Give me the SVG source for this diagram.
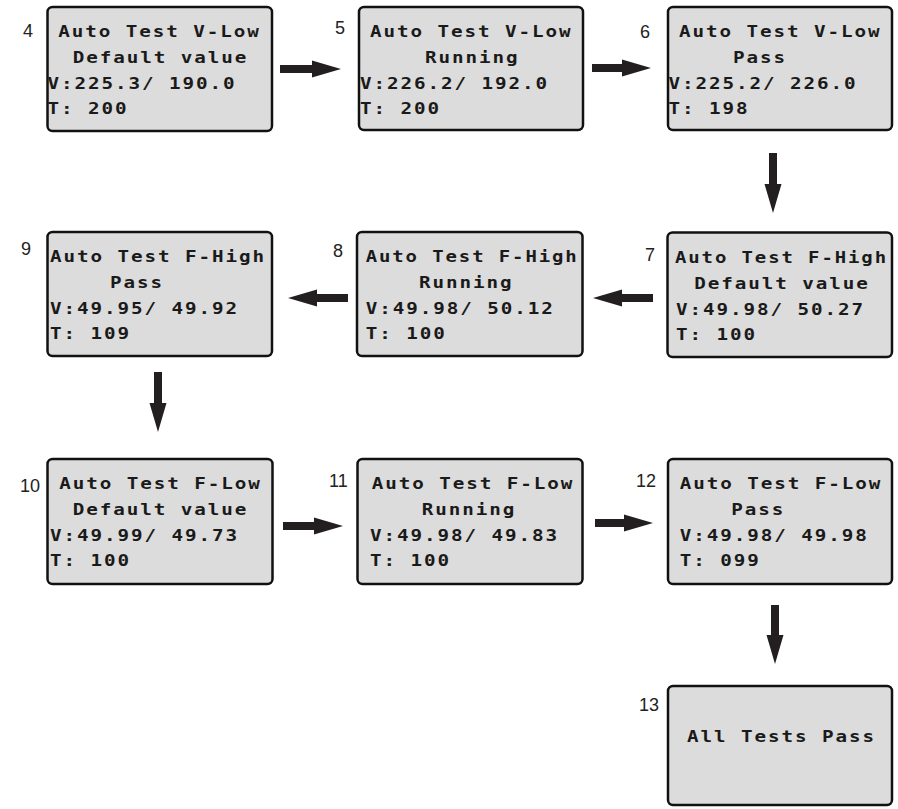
<svg xmlns="http://www.w3.org/2000/svg" width="898" height="809" viewBox="0 0 898 809">
<style>
.box{fill:#dcdcdc;stroke:#111;stroke-width:2.5}
.lcd{font-family:"DejaVu Sans Mono","Liberation Mono",monospace;font-weight:bold;font-size:15px;letter-spacing:1.5px;fill:#1a1a1a}
.lbl{font-family:"Liberation Sans",Arial,sans-serif;font-size:18px;fill:#222}
.arr{fill:#231f20}
</style>
<rect width="898" height="809" fill="#fff"/>
<g id="connectors">
<path class="arr" d="M280,65 H312 V60.5 L341,69 L312,77.5 V73 H280 Z"/>
<path class="arr" d="M592,64 H622 V59.5 L651,68 L622,76.5 V72 H592 Z"/>
<path class="arr" d="M769,153 V184 H764.5 L773,213 L781.5,184 H777 V153 Z"/>
<path class="arr" d="M653,294 H622 V289.5 L593,298 L622,306.5 V302 H653 Z"/>
<path class="arr" d="M348,294 H317 V289.5 L288,298 L317,306.5 V302 H348 Z"/>
<path class="arr" d="M154,372 V403 H149.5 L158,432 L166.5,403 H162 V372 Z"/>
<path class="arr" d="M283,522 H314 V517.5 L343,526 L314,534.5 V530 H283 Z"/>
<path class="arr" d="M595,519 H624 V514.5 L653,523 L624,531.5 V527 H595 Z"/>
<path class="arr" d="M771,605 V635 H766.5 L775,664 L783.5,635 H779 V605 Z"/>
</g>
<g id="node4">
<rect class="box" x="47.5" y="7" width="224.5" height="124" rx="5"/>
<text class="lbl" x="23" y="37">4</text>
<text class="lcd" x="58.3" y="37" textLength="202.5" lengthAdjust="spacingAndGlyphs">Auto Test V-Low</text>
<text class="lcd" x="72.7" y="63" textLength="175.5" lengthAdjust="spacingAndGlyphs">Default value</text>
<text class="lcd" x="47.5" y="89" textLength="189" lengthAdjust="spacingAndGlyphs">V:225.3/ 190.0</text>
<text class="lcd" x="47.5" y="114" textLength="81" lengthAdjust="spacingAndGlyphs">T: 200</text>
</g>
<g id="node5">
<rect class="box" x="359" y="7" width="224" height="123" rx="5"/>
<text class="lbl" x="335" y="34">5</text>
<text class="lcd" x="370" y="37" textLength="202.5" lengthAdjust="spacingAndGlyphs">Auto Test V-Low</text>
<text class="lcd" x="425" y="63" textLength="94.5" lengthAdjust="spacingAndGlyphs">Running</text>
<text class="lcd" x="360" y="89" textLength="189" lengthAdjust="spacingAndGlyphs">V:226.2/ 192.0</text>
<text class="lcd" x="360" y="114" textLength="81" lengthAdjust="spacingAndGlyphs">T: 200</text>
</g>
<g id="node6">
<rect class="box" x="668" y="7" width="224" height="123" rx="5"/>
<text class="lbl" x="640" y="38">6</text>
<text class="lcd" x="679" y="37" textLength="202.5" lengthAdjust="spacingAndGlyphs">Auto Test V-Low</text>
<text class="lcd" x="733" y="63" textLength="54" lengthAdjust="spacingAndGlyphs">Pass</text>
<text class="lcd" x="668.5" y="89" textLength="189" lengthAdjust="spacingAndGlyphs">V:225.2/ 226.0</text>
<text class="lcd" x="668.5" y="114" textLength="81" lengthAdjust="spacingAndGlyphs">T: 198</text>
</g>
<g id="node7">
<rect class="box" x="667.5" y="232.5" width="224.5" height="124.5" rx="5"/>
<text class="lbl" x="645" y="261">7</text>
<text class="lcd" x="675" y="263" textLength="213" lengthAdjust="spacingAndGlyphs">Auto Test F-High</text>
<text class="lcd" x="694.3" y="289" textLength="175.5" lengthAdjust="spacingAndGlyphs">Default value</text>
<text class="lcd" x="676" y="315" textLength="189" lengthAdjust="spacingAndGlyphs">V:49.98/ 50.27</text>
<text class="lcd" x="676" y="340" textLength="81" lengthAdjust="spacingAndGlyphs">T: 100</text>
</g>
<g id="node8">
<rect class="box" x="357" y="232" width="225.5" height="124" rx="5"/>
<text class="lbl" x="333" y="257">8</text>
<text class="lcd" x="365.7" y="262" textLength="213" lengthAdjust="spacingAndGlyphs">Auto Test F-High</text>
<text class="lcd" x="419" y="288" textLength="94.5" lengthAdjust="spacingAndGlyphs">Running</text>
<text class="lcd" x="365.7" y="314" textLength="189" lengthAdjust="spacingAndGlyphs">V:49.98/ 50.12</text>
<text class="lcd" x="365.7" y="339" textLength="81" lengthAdjust="spacingAndGlyphs">T: 100</text>
</g>
<g id="node9">
<rect class="box" x="47.5" y="232" width="224.5" height="124" rx="5"/>
<text class="lbl" x="21" y="255">9</text>
<text class="lcd" x="50" y="262" textLength="216" lengthAdjust="spacingAndGlyphs">Auto Test F-High</text>
<text class="lcd" x="110" y="288" textLength="54" lengthAdjust="spacingAndGlyphs">Pass</text>
<text class="lcd" x="50" y="314" textLength="189" lengthAdjust="spacingAndGlyphs">V:49.95/ 49.92</text>
<text class="lcd" x="50" y="339" textLength="81" lengthAdjust="spacingAndGlyphs">T: 109</text>
</g>
<g id="node10">
<rect class="box" x="47.5" y="459" width="225" height="125" rx="5"/>
<text class="lbl" x="20" y="492">10</text>
<text class="lcd" x="59.3" y="489" textLength="202.5" lengthAdjust="spacingAndGlyphs">Auto Test F-Low</text>
<text class="lcd" x="72.7" y="515" textLength="175.5" lengthAdjust="spacingAndGlyphs">Default value</text>
<text class="lcd" x="50" y="541" textLength="189" lengthAdjust="spacingAndGlyphs">V:49.99/ 49.73</text>
<text class="lcd" x="50" y="566" textLength="81" lengthAdjust="spacingAndGlyphs">T: 100</text>
</g>
<g id="node11">
<rect class="box" x="357.5" y="459" width="225" height="125" rx="5"/>
<text class="lbl" x="329" y="487">11</text>
<text class="lcd" x="371.7" y="489" textLength="202.5" lengthAdjust="spacingAndGlyphs">Auto Test F-Low</text>
<text class="lcd" x="421.7" y="515" textLength="94.5" lengthAdjust="spacingAndGlyphs">Running</text>
<text class="lcd" x="370" y="541" textLength="189" lengthAdjust="spacingAndGlyphs">V:49.98/ 49.83</text>
<text class="lcd" x="370" y="566" textLength="81" lengthAdjust="spacingAndGlyphs">T: 100</text>
</g>
<g id="node12">
<rect class="box" x="668" y="459" width="224" height="125" rx="5"/>
<text class="lbl" x="636" y="487">12</text>
<text class="lcd" x="679.7" y="489" textLength="202.5" lengthAdjust="spacingAndGlyphs">Auto Test F-Low</text>
<text class="lcd" x="731.3" y="515" textLength="54" lengthAdjust="spacingAndGlyphs">Pass</text>
<text class="lcd" x="679.7" y="541" textLength="189" lengthAdjust="spacingAndGlyphs">V:49.98/ 49.98</text>
<text class="lcd" x="679.7" y="566" textLength="81" lengthAdjust="spacingAndGlyphs">T: 099</text>
</g>
<g id="node13">
<rect class="box" x="668" y="686" width="224" height="119" rx="5"/>
<text class="lbl" x="639" y="711">13</text>
<text class="lcd" x="687" y="742" textLength="189" lengthAdjust="spacingAndGlyphs">All Tests Pass</text>
</g>
</svg>
